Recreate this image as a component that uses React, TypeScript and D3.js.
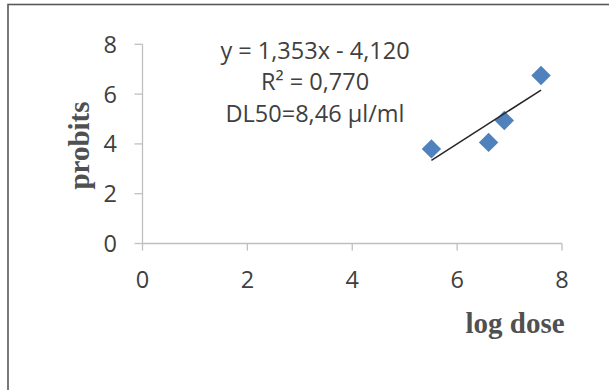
import React from "react";
import * as d3 from "d3";

// Probit analysis: log dose vs. probit values
const logDose = [5.51, 6.6, 6.9, 7.6];
const probits = [3.8, 4.06, 4.94, 6.75];
const slope = 1.353;
const intercept = -4.12;
const xTicks = [0, 2, 4, 6, 8];
const yTicks = [0, 2, 4, 6, 8];
const annotationLines = ["y = 1,353x - 4,120", "R² = 0,770", "DL50=8,46 µl/ml"];

const W = 609;
const H = 390;
const textColor = "#404040";
const axisColor = "#BFBFBF";
const markerColor = "#4F81BD";
const labelFont = "'Open Sans', 'Noto Sans', sans-serif";
const titleFont = "'Liberation Serif', 'Times New Roman', serif";

export default function App() {
  const x = d3.scaleLinear().domain([0, 8]).range([142.5, 562]);
  const y = d3.scaleLinear().domain([0, 8]).range([243.5, 44.3]);

  const [x0, x1] = d3.extent(logDose) as [number, number];
  const trend = d3
    .line<number>()
    .x((d) => x(d))
    .y((d) => y(slope * d + intercept));

  const diamond = d3.symbol().type(d3.symbolDiamond2).size(240)();

  return (
    <div style={{ position: "fixed", left: 0, top: 0 }}>
      <svg width={W} height={H} style={{ display: "block", background: "#fff" }}>
        <rect x={8} y={4.5} width={W + 20} height={H + 20} fill="#fff" stroke="#595959" strokeWidth={1.6} />

        {/* axes */}
        <line x1={x(0)} x2={x(8)} y1={y(0)} y2={y(0)} stroke={axisColor} strokeWidth={1.3} />
        <line x1={x(0)} x2={x(0)} y1={y(0)} y2={y(8)} stroke={axisColor} strokeWidth={1.3} />
        {xTicks.map((t) => (
          <g key={"x" + t}>
            <line x1={x(t)} x2={x(t)} y1={y(0)} y2={y(0) + 7} stroke={axisColor} strokeWidth={1.3} />
            <text
              x={x(t)}
              y={287.5}
              textAnchor="middle"
              fontFamily={labelFont}
              fontSize={23.5}
              fill={textColor}
            >
              {t}
            </text>
          </g>
        ))}
        {yTicks.map((t) => (
          <g key={"y" + t}>
            <line x1={x(0) - 8} x2={x(0)} y1={y(t)} y2={y(t)} stroke={axisColor} strokeWidth={1.3} />
            <text
              x={117}
              y={y(t)}
              dy="0.36em"
              textAnchor="end"
              fontFamily={labelFont}
              fontSize={23.5}
              fill={textColor}
            >
              {t}
            </text>
          </g>
        ))}

        {/* axis titles */}
        <text
          transform="translate(89,145.5) rotate(-90)"
          textAnchor="middle"
          fontFamily={titleFont}
          fontWeight="bold"
          fontSize={29}
          fill="#505050"
        >
          probits
        </text>
        <text
          x={515}
          y={333}
          textAnchor="middle"
          fontFamily={titleFont}
          fontWeight="bold"
          fontSize={29}
          fill="#505050"
        >
          log dose
        </text>

        {/* data points */}
        {logDose.map((d, i) => (
          <path
            key={"p" + i}
            d={diamond as string}
            transform={`translate(${x(d)},${y(probits[i])})`}
            fill={markerColor}
          />
        ))}

        {/* linear trendline */}
        <path d={trend([x0, x1]) as string} fill="none" stroke="#262626" strokeWidth={1.5} />

        {/* regression annotation */}
        {annotationLines.map((s, i) => (
          <text
            key={"a" + i}
            x={315}
            y={58.5 + i * 31.7}
            textAnchor="middle"
            fontFamily={labelFont}
            fontSize={23.5}
            fill={textColor}
          >
            {s}
          </text>
        ))}
      </svg>
    </div>
  );
}
